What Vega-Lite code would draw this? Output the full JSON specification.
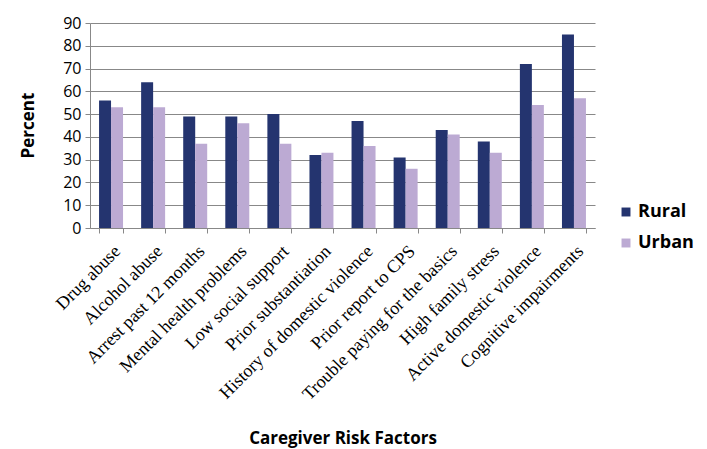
{
  "$schema": "https://vega.github.io/schema/vega-lite/v6.json",
  "autosize": {"type": "none"},
  "width": 505,
  "height": 205,
  "padding": {"left": 90, "top": 23, "right": 112, "bottom": 221},
  "background": "white",
  "data": {"values": [
    {"factor": "Drug abuse", "group": "Rural", "pct": 56},
    {"factor": "Drug abuse", "group": "Urban", "pct": 53},
    {"factor": "Alcohol abuse", "group": "Rural", "pct": 64},
    {"factor": "Alcohol abuse", "group": "Urban", "pct": 53},
    {"factor": "Arrest past 12 months", "group": "Rural", "pct": 49},
    {"factor": "Arrest past 12 months", "group": "Urban", "pct": 37},
    {"factor": "Mental health problems", "group": "Rural", "pct": 49},
    {"factor": "Mental health problems", "group": "Urban", "pct": 46},
    {"factor": "Low social support", "group": "Rural", "pct": 50},
    {"factor": "Low social support", "group": "Urban", "pct": 37},
    {"factor": "Prior substantiation", "group": "Rural", "pct": 32},
    {"factor": "Prior substantiation", "group": "Urban", "pct": 33},
    {"factor": "History of domestic violence", "group": "Rural", "pct": 47},
    {"factor": "History of domestic violence", "group": "Urban", "pct": 36},
    {"factor": "Prior report to CPS", "group": "Rural", "pct": 31},
    {"factor": "Prior report to CPS", "group": "Urban", "pct": 26},
    {"factor": "Trouble paying for the basics", "group": "Rural", "pct": 43},
    {"factor": "Trouble paying for the basics", "group": "Urban", "pct": 41},
    {"factor": "High family stress", "group": "Rural", "pct": 38},
    {"factor": "High family stress", "group": "Urban", "pct": 33},
    {"factor": "Active domestic violence", "group": "Rural", "pct": 72},
    {"factor": "Active domestic violence", "group": "Urban", "pct": 54},
    {"factor": "Cognitive impairments", "group": "Rural", "pct": 85},
    {"factor": "Cognitive impairments", "group": "Urban", "pct": 57}
  ]},
  "mark": {"type": "bar"},
  "encoding": {
    "x": {
      "field": "factor", "type": "nominal", "sort": null,
      "scale": {"paddingInner": 0.43, "paddingOuter": 0.215},
      "axis": {
        "title": "Caregiver Risk Factors",
        "titleFont": "Open Sans", "titleFontSize": 17, "titleFontWeight": "bold", "titleColor": "#000",
        "titleY": 215, "titleBaseline": "alphabetic",
        "labelFont": "Liberation Serif", "labelFontSize": 18, "labelColor": "#000",
        "labelAngle": -45, "labelAlign": "right", "labelBaseline": "top", "labelPadding": 9,
        "labelLimit": 300,
        "tickBand": "extent", "tickColor": "#888", "tickSize": 5,
        "domainColor": "#888", "grid": false
      }
    },
    "xOffset": {"field": "group", "type": "nominal", "scale": {"paddingInner": 0, "paddingOuter": 0}},
    "y": {
      "field": "pct", "type": "quantitative",
      "scale": {"domain": [0, 90]},
      "axis": {
        "title": "Percent",
        "titleFont": "Open Sans", "titleFontSize": 17, "titleFontWeight": "bold", "titleColor": "#000",
        "titleX": -57, "titleY": 102, "titleBaseline": "alphabetic", "titleAngle": -90, "titleAlign": "center",
        "values": [0, 10, 20, 30, 40, 50, 60, 70, 80, 90],
        "labelFont": "Open Sans", "labelFontSize": 16, "labelColor": "#000", "labelPadding": 4,
        "tickColor": "#888", "tickSize": 5, "domainColor": "#888",
        "gridColor": "#888", "gridWidth": 1
      }
    },
    "color": {
      "field": "group", "type": "nominal",
      "scale": {"domain": ["Rural", "Urban"], "range": ["#24346f", "#bcaad3"]},
      "legend": {
        "title": null, "orient": "none", "legendX": 527, "legendY": 180,
        "symbolType": "square", "symbolSize": 80, "symbolStrokeWidth": 0,
        "labelFont": "Open Sans", "labelFontSize": 18, "labelFontWeight": "bold", "labelColor": "#000",
        "rowPadding": 13, "labelOffset": 3
      }
    }
  },
  "config": {"view": {"stroke": null}}
}
